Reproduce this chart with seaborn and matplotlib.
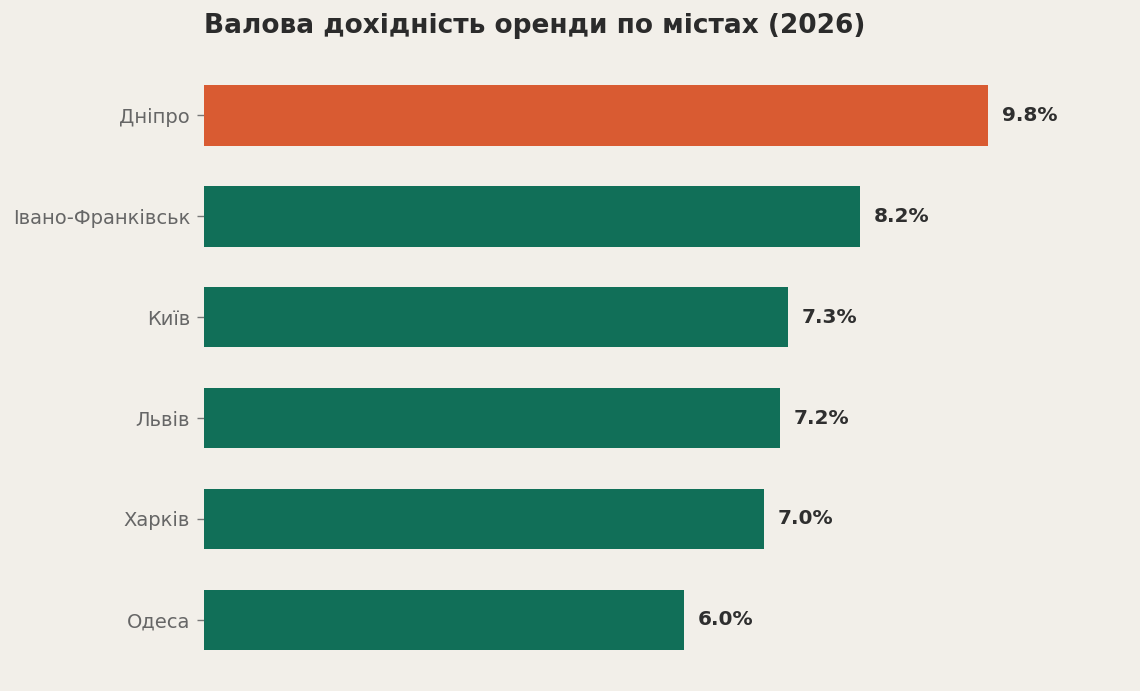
import matplotlib
matplotlib.use("Agg")
import matplotlib.pyplot as plt
import seaborn as sns
import pandas as pd

# --- data ---
cities = ["Дніпро", "Івано-Франківськ", "Київ", "Львів", "Харків", "Одеса"]
yields = [9.8, 8.2, 7.3, 7.2, 7.0, 6.0]
highlight = "Дніпро"

BG = "#f2efe9"
GREEN = "#116f58"
ORANGE = "#d95b32"

sns.set_theme(style="white")
plt.rcParams["font.family"] = ["DejaVu Sans"]

df = pd.DataFrame({"city": cities, "value": yields})
palette = {c: (ORANGE if c == highlight else GREEN) for c in cities}

fig = plt.figure(figsize=(11.4, 6.91), dpi=100, facecolor=BG)
ax = fig.add_axes([0.179, 0.030, 0.811, 0.876])
ax.set_facecolor(BG)

sns.barplot(data=df, x="value", y="city", hue="city", palette=palette,
            order=cities, width=0.6, legend=False, saturation=1,
            linewidth=0, ax=ax)

# value labels at the end of each bar
for i, v in enumerate(yields):
    ax.text(v + 0.175, i, f"{v:.1f}%", va="center", ha="left",
            fontsize=14.5, fontweight="bold", color="#2f2f2f")

ax.set_xlim(0, 11.56)
ax.set_ylim(5.5, -0.5)
ax.set_xlabel("")
ax.set_ylabel("")
ax.set_xticks([])
sns.despine(ax=ax, left=True, bottom=True)
ax.tick_params(axis="y", length=5, width=1, color="#777777",
               labelcolor="#666666", labelsize=14, pad=5, left=True)

ax.set_title("Валова дохідність оренди по містах (2026)", loc="left",
             fontsize=19, fontweight="bold", color="#2b2b2b", pad=23)

fig.savefig("out.png", dpi=100, facecolor=BG)
